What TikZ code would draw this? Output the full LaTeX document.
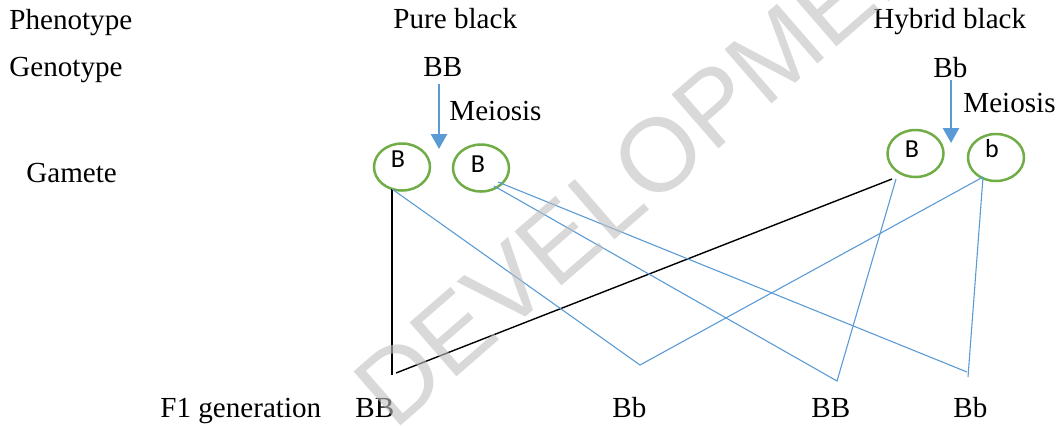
\documentclass[tikz,border=0pt]{standalone}
\usepackage{fontspec}
\setmainfont{Liberation Serif}
\newfontfamily\gamfont{Carlito}
\newfontfamily\wmfont{Liberation Sans}
\usetikzlibrary{arrows.meta,shapes.geometric}
\definecolor{lineblue}{HTML}{5B9BD5}
\definecolor{gamgreen}{HTML}{70AD47}
\begin{document}
\begin{tikzpicture}[x=0.5pt,y=-0.5pt,
  lbl/.style={anchor=base west, inner sep=0pt, font=\fontsize{14.55}{17}\selectfont},
  gam/.style={draw=gamgreen, line width=1.25pt, ellipse, inner sep=0pt, minimum width=28pt, minimum height=23.5pt},
  gl/.style={inner sep=0pt, font=\gamfont\fontsize{13}{15}\selectfont},
  meio/.style={draw=lineblue, line width=1.35pt, -{Triangle[width=8pt,length=7.5pt]}},
  blk/.style={draw=black, line width=0.7pt},
  blu/.style={draw=lineblue, line width=0.55pt},
  wm/.style={anchor=base west, inner sep=0pt, rotate=41, text=black!25, text opacity=0.6, font=\wmfont\fontsize{52}{54}\selectfont}
]
\useasboundingbox (0,0) rectangle (1059,425);
% labels
\node[lbl] (phen) at (9,29) {Phenotype};
\node[lbl] (geno) at (9,76) {Genotype};
\node[lbl] (gamt) at (26,182) {Gamete};
\node[lbl] (f1) at (160,417) {F1 generation};
\node[lbl] (pb) at (393,28) {Pure black};
\node[lbl] (hb) at (873,28) {Hybrid black};
\node[lbl] (pg) at (423,76) {BB};
\node[lbl] (hg) at (933,77) {Bb};
\node[lbl] (m1) at (449,120) {Meiosis};
\node[lbl] (m2) at (963,112) {Meiosis};
\node[lbl] (c1) at (355,417) {BB};
\node[lbl] (c2) at (612,417) {Bb};
\node[lbl] (c3) at (811,417) {BB};
\node[lbl] (c4) at (953,417) {Bb};
% gametes
\node[gam] (g1) at (402,167) {};
\node[gam] (g2) at (481,168) {};
\node[gam] (g3) at (915.5,153.5) {};
\node[gam] (g4) at (996,157.5) {};
\node[gl] (l1) at (398,159) {B};
\node[gl] (l2) at (478,164) {B};
\node[gl] (l3) at (912,149) {B};
\node[gl] (l4) at (992,149) {b};
% meiosis arrows
\coordinate (pa1) at (439,84);
\coordinate (pa2) at (439,149);
\coordinate (ha1) at (951,80);
\coordinate (ha2) at (951,143);
\draw[meio] (pa1) -- (pa2);
\draw[meio] (ha1) -- (ha2);
% cross lines
\coordinate (a1) at (392,189);
\coordinate (a2) at (494,186);
\coordinate (a3) at (498,182);
\coordinate (b1) at (892,179);
\coordinate (b2) at (896,179);
\coordinate (b3) at (983,177);
\coordinate (p1) at (392,375);
\coordinate (p1b) at (396,373);
\coordinate (p2) at (640,365);
\coordinate (p3) at (837,381);
\coordinate (p4a) at (967,372);
\coordinate (p4b) at (968,377);
\draw[blk] (a1) -- (p1);
\draw[blk] (p1b) -- (b1);
\draw[blu] (a1) -- (p2) -- (b3);
\draw[blu] (a2) -- (p3) -- (b2);
\draw[blu] (a3) -- (p4a);
\draw[blu] (b3) -- (p4b);
% watermark
\begin{scope}
\clip (0,0) rectangle (1059,425);
\node[wm] (wmk) at (394,432) {DEVELOPMENT};
\end{scope}
\end{tikzpicture}
\end{document}
